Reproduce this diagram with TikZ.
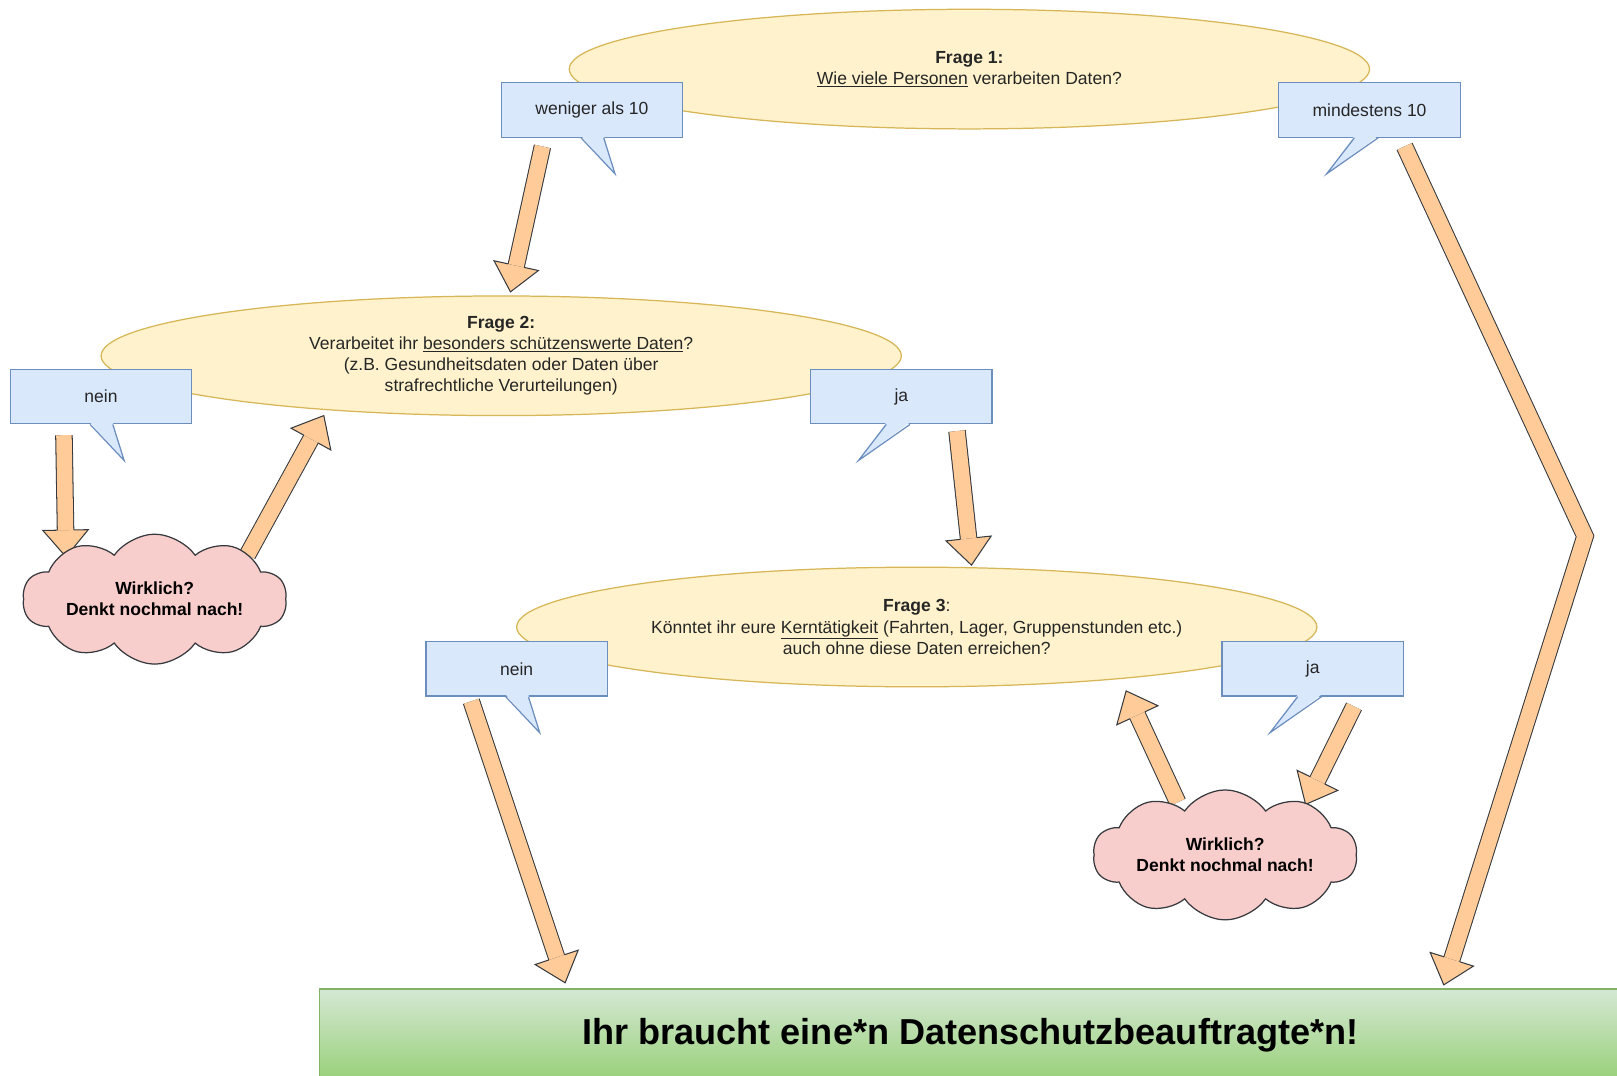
\documentclass[tikz,border=0pt]{standalone}
\usepackage{fontspec}
\setmainfont{Liberation Sans}
\usepackage{tikz}
\usetikzlibrary{positioning}
\usetikzlibrary{calc}
\usetikzlibrary{shapes.geometric}
\usetikzlibrary{shapes.symbols}

\definecolor{qfill}{HTML}{FFF2CC}
\definecolor{qline}{HTML}{D6B656}
\definecolor{afill}{HTML}{DAE8FC}
\definecolor{aline}{HTML}{6C8EBF}
\definecolor{cfill}{HTML}{F8CECC}
\definecolor{cline}{HTML}{36393D}
\definecolor{arrowfill}{HTML}{FFCC99}
\definecolor{arrowline}{HTML}{36393D}
\definecolor{gtop}{HTML}{D5E8D4}
\definecolor{gbot}{HTML}{97D077}
\definecolor{gline}{HTML}{82B366}

\tikzset{
  frage/.style={ellipse, draw=qline, fill=qfill, line width=1.2pt, minimum width=776pt, minimum height=116pt, inner sep=0pt, align=center, text=black!85, font=\fontsize{17}{20.5}\selectfont},
  antwort/.style={rectangle, draw=aline, fill=afill, line width=1.2pt, minimum width=176pt, minimum height=53pt, text=black!85, font=\fontsize{17}{20.5}\selectfont},
  wolke/.style={cloud, cloud puffs=10, cloud puff arc=110, cloud ignores aspect, draw=cline, fill=cfill, line width=1.2pt, minimum width=256pt, minimum height=126pt, inner sep=0pt, align=center, font=\bfseries\fontsize{17}{20.5}\selectfont},
  shaft/.style={draw=arrowline, line width=1pt, double=arrowfill, double distance=15pt, line join=miter},
  head/.style={draw=arrowline, fill=arrowfill, line width=1pt, line join=miter},
}

% tail of a speech bubble: node, left x, right x, tip x (from south west)
\newcommand{\blasenzipfel}[4]{%
  \fill[afill] ([xshift=#2pt,yshift=2pt]#1.south west) -- ([xshift=#4pt,yshift=-35pt]#1.south west) -- ([xshift=#3pt,yshift=2pt]#1.south west) -- cycle;
  \draw[aline, line width=1.2pt] ([xshift=#2pt]#1.south west) -- ([xshift=#4pt,yshift=-35pt]#1.south west) -- ([xshift=#3pt]#1.south west);
}
% head of a block arrow: from, tip
\newcommand{\pfeilspitze}[2]{%
  \coordinate (hb) at ($(#2)!26pt!(#1)$);
  \filldraw[head] ($(hb)!8pt!90:(#2)$) -- ($(hb)!22pt!90:(#2)$) -- (#2) -- ($(hb)!22pt!-90:(#2)$) -- ($(hb)!8pt!-90:(#2)$);
}

\begin{document}
\begin{tikzpicture}[x=1pt, y=-1pt]
  \useasboundingbox (0,0) rectangle (1568,1043);

  % result
  \node[rectangle, draw=gline, line width=1.2pt, top color=gtop, bottom color=gbot, minimum width=1262pt, minimum height=90pt, inner sep=0pt, font=\bfseries\fontsize{35}{40}\selectfont] (ziel) at (941,1004) {Ihr braucht eine*n Datenschutzbeauftragte*n!};

  % questions
  \node[frage] (f1) at (940,67) {\textbf{Frage 1:}\\\underline{Wie viele Personen} verarbeiten Daten?};
  \node[frage] (f2) at (486,345) {\textbf{Frage 2:}\\Verarbeitet ihr \underline{besonders schützenswerte Daten}?\\(z.B. Gesundheitsdaten oder Daten über\\strafrechtliche Verurteilungen)};
  \node[frage] (f3) at (889,608) {\textbf{Frage 3}:\\Könntet ihr eure \underline{Kerntätigkeit} (Fahrten, Lager, Gruppenstunden etc.)\\auch ohne diese Daten erreichen?};

  % answers
  \node[antwort] (w10) at (574,106.5) {weniger als 10};
  \node[antwort] (m10) at (1328,106.5) {mindestens 10};
  \node[antwort] (n2) at (98,384.5) {nein};
  \node[antwort] (j2) at (874,384.5) {ja};
  \node[antwort] (n3) at (501,648.5) {nein};
  \node[antwort] (j3) at (1273,648.5) {ja};
  \blasenzipfel{w10}{78}{100}{111}
  \blasenzipfel{m10}{74}{97}{47}
  \blasenzipfel{n2}{78}{100}{111}
  \blasenzipfel{j2}{74}{97}{47}
  \blasenzipfel{n3}{78}{100}{111}
  \blasenzipfel{j3}{74}{97}{47}

  % arrows
  \coordinate (p1s) at (526,142);  \coordinate (p1t) at (495,283);
  \coordinate (p2s) at (1362,142); \coordinate (p2k) at (1537,520); \coordinate (p2t) at (1400,955);
  \coordinate (p3s) at (62,422);   \coordinate (p3t) at (64,540);
  \coordinate (p4s) at (240,538);  \coordinate (p4t) at (314,403);
  \coordinate (p5s) at (928,418);  \coordinate (p5t) at (942,548);
  \coordinate (p6s) at (457,680);  \coordinate (p6t) at (548,953);
  \coordinate (p7s) at (1142,778); \coordinate (p7t) at (1092,670);
  \coordinate (p8s) at (1313,685); \coordinate (p8t) at (1266,780);

  \pfeilspitze{p1s}{p1t} \draw[shaft] (p1s) -- (hb);
  \pfeilspitze{p2k}{p2t} \draw[shaft] (p2s) -- (p2k) -- (hb);
  \pfeilspitze{p3s}{p3t} \draw[shaft] (p3s) -- (hb);
  \pfeilspitze{p4s}{p4t} \draw[shaft] (p4s) -- (hb);
  \pfeilspitze{p5s}{p5t} \draw[shaft] (p5s) -- (hb);
  \pfeilspitze{p6s}{p6t} \draw[shaft] (p6s) -- (hb);
  \pfeilspitze{p7s}{p7t} \draw[shaft] (p7s) -- (hb);
  \pfeilspitze{p8s}{p8t} \draw[shaft] (p8s) -- (hb);

  % second thoughts
  \node[wolke] (w2) at (150,581) {Wirklich?\\Denkt nochmal nach!};
  \node[wolke] (w3) at (1188,829) {Wirklich?\\Denkt nochmal nach!};
\end{tikzpicture}
\end{document}
